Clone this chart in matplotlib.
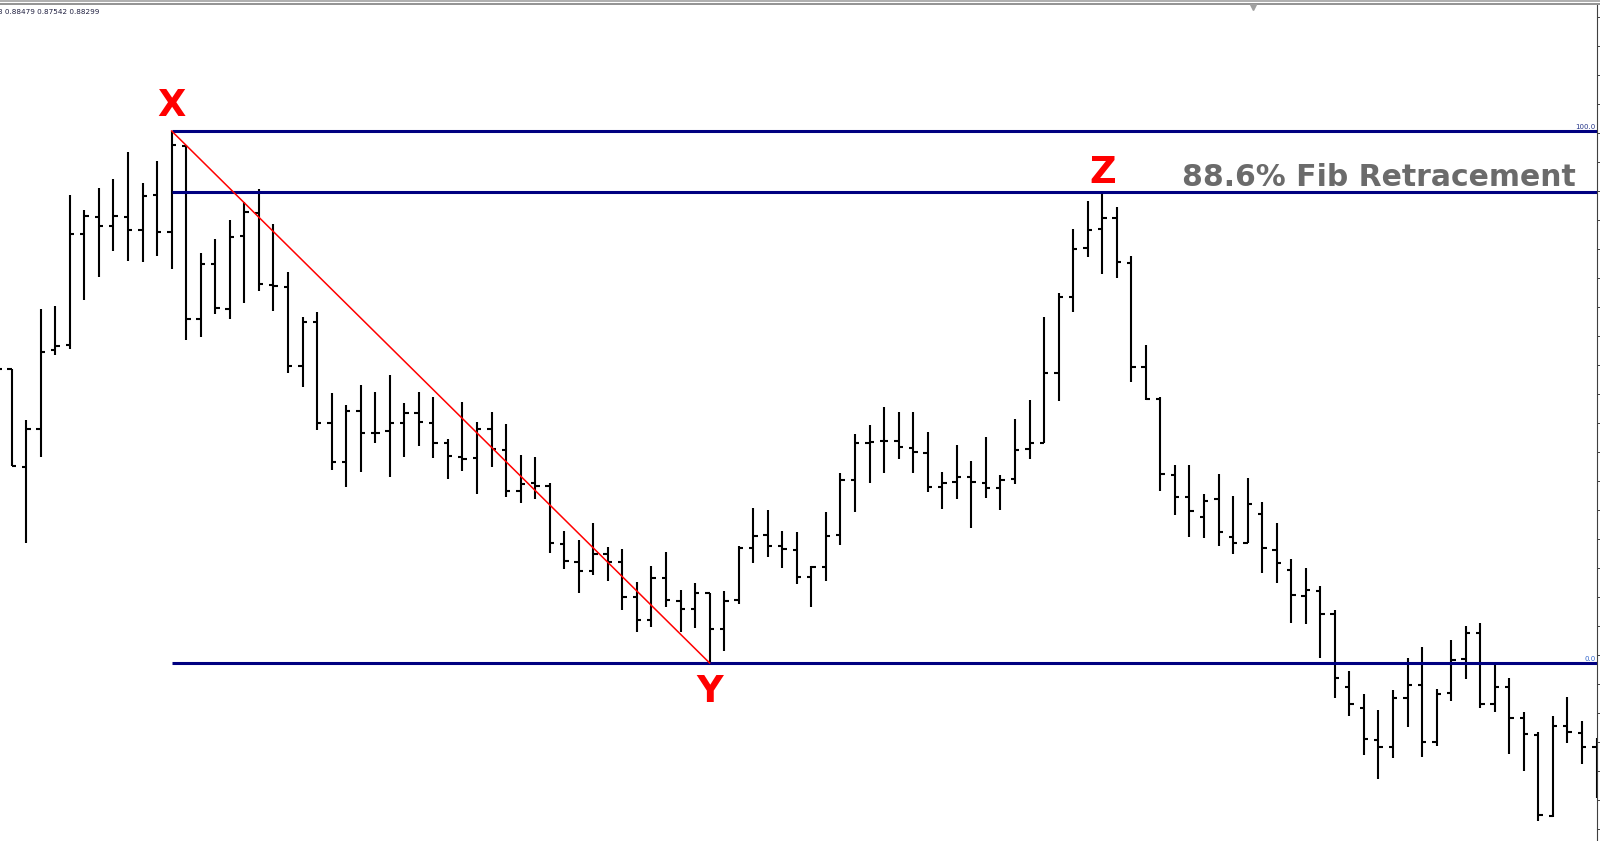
import numpy as np
import matplotlib
matplotlib.use("Agg")
import matplotlib.pyplot as plt
from matplotlib.lines import Line2D
from matplotlib.ticker import MultipleLocator
from matplotlib.transforms import blended_transform_factory

# OHLC bars, first entry is the half-hidden bar left of the frame (index -1)
opens = [0.9140,
         0.9131, 0.9033, 0.9071, 0.9150, 0.9155, 0.9266, 0.9283, 0.9274, 0.9283, 0.9270,
         0.9305, 0.9268, 0.9354, 0.9181, 0.9236, 0.9191, 0.9264, 0.9287, 0.9215, 0.9213,
         0.9134, 0.9178, 0.9077, 0.9038, 0.9089, 0.9067, 0.9069, 0.9077, 0.9087, 0.9077,
         0.9057, 0.9043, 0.9042, 0.9071, 0.9050, 0.9009, 0.9017, 0.9014, 0.8956, 0.8938,
         0.8929, 0.8946, 0.8938, 0.8903, 0.8880, 0.8922, 0.8899, 0.8891, 0.8907, 0.8871,
         0.8900, 0.8952, 0.8965, 0.8954, 0.8950, 0.8923, 0.8933, 0.8965, 0.9020, 0.9057,
         0.9059, 0.9059, 0.9052, 0.9047, 0.9013, 0.9018, 0.9023, 0.9017, 0.9012, 0.9021,
         0.9051, 0.9057, 0.9127, 0.9203, 0.9252, 0.9271, 0.9282, 0.9237, 0.9133, 0.9101,
         0.9025, 0.9003, 0.8983, 0.9001, 0.8963, 0.8957, 0.8986, 0.8950, 0.8930, 0.8904,
         0.8909, 0.8886, 0.8813, 0.8792, 0.8760, 0.8753, 0.8802, 0.8815, 0.8758, 0.8807,
         0.8841, 0.8867, 0.8796, 0.8813, 0.8782, 0.8765, 0.8684, 0.8774, 0.8767, 0.8753]
highs = [0.9150,
         0.9131, 0.9080, 0.9191, 0.9194, 0.9305, 0.9290, 0.9312, 0.9321, 0.9348, 0.9317,
         0.9339, 0.9369, 0.9355, 0.9247, 0.9261, 0.9280, 0.9298, 0.9311, 0.9276, 0.9228,
         0.9183, 0.9188, 0.9107, 0.9095, 0.9115, 0.9108, 0.9125, 0.9097, 0.9108, 0.9103,
         0.9061, 0.9098, 0.9078, 0.9088, 0.9076, 0.9045, 0.9043, 0.9017, 0.8969, 0.8960,
         0.8977, 0.8953, 0.8951, 0.8918, 0.8934, 0.8948, 0.8910, 0.8917, 0.8907, 0.8909,
         0.8954, 0.8992, 0.8990, 0.8969, 0.8968, 0.8934, 0.8988, 0.9027, 0.9066, 0.9075,
         0.9093, 0.9088, 0.9088, 0.9068, 0.9028, 0.9055, 0.9039, 0.9063, 0.9025, 0.9081,
         0.9100, 0.9183, 0.9207, 0.9271, 0.9299, 0.9309, 0.9293, 0.9244, 0.9155, 0.9103,
         0.9035, 0.9035, 0.9006, 0.9026, 0.9004, 0.9022, 0.8998, 0.8977, 0.8941, 0.8932,
         0.8914, 0.8890, 0.8829, 0.8806, 0.8790, 0.8810, 0.8842, 0.8853, 0.8811, 0.8860,
         0.8874, 0.8877, 0.8838, 0.8822, 0.8788, 0.8768, 0.8784, 0.8803, 0.8779, 0.8762]
lows = [0.9120,
        0.9034, 0.8957, 0.9043, 0.9145, 0.9151, 0.9200, 0.9223, 0.9249, 0.9239, 0.9238,
        0.9244, 0.9231, 0.9160, 0.9163, 0.9186, 0.9181, 0.9197, 0.9209, 0.9189, 0.9127,
        0.9113, 0.9070, 0.9030, 0.9013, 0.9028, 0.9057, 0.9023, 0.9043, 0.9054, 0.9042,
        0.9021, 0.9029, 0.9006, 0.9033, 0.9003, 0.8997, 0.9001, 0.8947, 0.8931, 0.8907,
        0.8925, 0.8919, 0.8890, 0.8868, 0.8873, 0.8893, 0.8868, 0.8872, 0.8837, 0.8849,
        0.8896, 0.8937, 0.8943, 0.8932, 0.8916, 0.8893, 0.8919, 0.8955, 0.8988, 0.9017,
        0.9027, 0.9041, 0.9027, 0.9008, 0.8991, 0.9001, 0.8972, 0.9002, 0.8990, 0.9016,
        0.9041, 0.9057, 0.9099, 0.9188, 0.9243, 0.9226, 0.9222, 0.9118, 0.9100, 0.9009,
        0.8985, 0.8963, 0.8962, 0.8954, 0.8946, 0.8957, 0.8927, 0.8917, 0.8877, 0.8876,
        0.8842, 0.8802, 0.8784, 0.8745, 0.8721, 0.8742, 0.8773, 0.8743, 0.8754, 0.8799,
        0.8821, 0.8792, 0.8788, 0.8746, 0.8729, 0.8679, 0.8683, 0.8757, 0.8736, 0.8702]
closes = [0.9131,
          0.9034, 0.9071, 0.9148, 0.9154, 0.9266, 0.9284, 0.9274, 0.9284, 0.9270, 0.9304,
          0.9268, 0.9355, 0.9181, 0.9236, 0.9192, 0.9263, 0.9288, 0.9216, 0.9214, 0.9134,
          0.9178, 0.9077, 0.9038, 0.9089, 0.9067, 0.9067, 0.9077, 0.9087, 0.9078, 0.9057,
          0.9044, 0.9041, 0.9071, 0.9051, 0.9009, 0.9016, 0.9014, 0.8957, 0.8939, 0.8929,
          0.8946, 0.8938, 0.8903, 0.8880, 0.8922, 0.8900, 0.8891, 0.8907, 0.8871, 0.8899,
          0.8952, 0.8964, 0.8954, 0.8951, 0.8923, 0.8933, 0.8964, 0.9020, 0.9057, 0.9058,
          0.9059, 0.9053, 0.9048, 0.9013, 0.9017, 0.9023, 0.9018, 0.9012, 0.9020, 0.9050,
          0.9057, 0.9127, 0.9203, 0.9251, 0.9270, 0.9282, 0.9238, 0.9133, 0.9101, 0.9026,
          0.9003, 0.8989, 0.8999, 0.8968, 0.8957, 0.8996, 0.8952, 0.8937, 0.8905, 0.8910,
          0.8886, 0.8822, 0.8796, 0.8761, 0.8753, 0.8802, 0.8815, 0.8758, 0.8806, 0.8840,
          0.8867, 0.8796, 0.8813, 0.8782, 0.8766, 0.8685, 0.8774, 0.8768, 0.8753, 0.8730]

# swing points (bar numbers)
x_bar, y_bar, z_bar = 11, 48, 75
fib_level = 0.886
header = "3 0.88479 0.87542 0.88299"

bars = np.arange(len(opens)) - 1
o = np.array(opens)
h = np.array(highs)
l = np.array(lows)
c = np.array(closes)

x_high = h[bars == x_bar][0]
y_low = l[bars == y_bar][0]
z_high = h[bars == z_bar][0]
fib886 = y_low + fib_level * (x_high - y_low)

fig = plt.figure(figsize=(16, 8.41), dpi=100)
ax = fig.add_axes([0, 0, 1597 / 1600, 836 / 841])
ax.set_xlim(-0.805, 109.03)
ax.set_ylim(0.8659, 0.9495)

# bar chart
ax.vlines(bars, l, h, color="black", lw=1.5, zorder=2)
ax.hlines(o, bars - 0.3, bars, color="black", lw=1.5, zorder=2)
ax.hlines(c, bars, bars + 0.3, color="black", lw=1.5, zorder=2)

# fibo levels + XY line
ax.hlines([x_high, fib886, y_low], x_bar, 115, color="#000080", lw=2.2, zorder=3)
ax.plot([x_bar, y_bar], [x_high, y_low], color="#ff0000", lw=1.1, zorder=4)

tr = blended_transform_factory(ax.transAxes, ax.transData)
ax.text(0.999, x_high + 0.0001, "100.0", transform=tr, ha="right", va="bottom",
        fontsize=5, color="#223388")
ax.text(0.999, y_low + 0.0001, "0.0", transform=tr, ha="right", va="bottom",
        fontsize=5, color="#3366cc")

lbl = dict(color="#ff0000", fontsize=26.5, fontweight="heavy", family="DejaVu Sans",
           ha="center", va="baseline", zorder=5)
ax.text(x_bar, x_high + 0.0015, "X", **lbl)
ax.text(y_bar, y_low - 0.0039, "Y", **lbl)
ax.text(z_bar, z_high + 0.0008, "Z", **lbl)

ax.text(80.5, fib886 + 0.0006, "88.6% Fib Retracement", color="#6b6b6b",
        fontsize=21.5, fontweight="bold", family="DejaVu Sans",
        ha="left", va="baseline", zorder=5)

# frame like the terminal window
for s in ["top", "left", "bottom"]:
    ax.spines[s].set_visible(False)
ax.spines["right"].set_color("#404040")
ax.spines["right"].set_linewidth(0.8)
ax.set_xticks([])
ax.yaxis.tick_right()
ax.yaxis.set_major_locator(MultipleLocator(0.0029))
ax.tick_params(axis="y", direction="out", length=2.5, width=0.7, color="#404040",
               labelright=False)

fig.add_artist(Line2D([0, 1], [1 - 1 / 841, 1 - 1 / 841], transform=fig.transFigure,
                      color="#a8a8a8", lw=1.3))
fig.add_artist(Line2D([0, 1], [1 - 4 / 841, 1 - 4 / 841], transform=fig.transFigure,
                      color="#8a8a8a", lw=1.3))
fig.add_artist(Line2D([1253 / 1600], [1 - 7 / 841], transform=fig.transFigure,
                      marker="v", markersize=4, color="#a0a0a0", lw=0))

fig.text(-0.0015, 1 - 12 / 841, header, fontsize=5.2, color="#202040",
         ha="left", va="center", family="DejaVu Sans")

fig.savefig("out.png", dpi=100)
